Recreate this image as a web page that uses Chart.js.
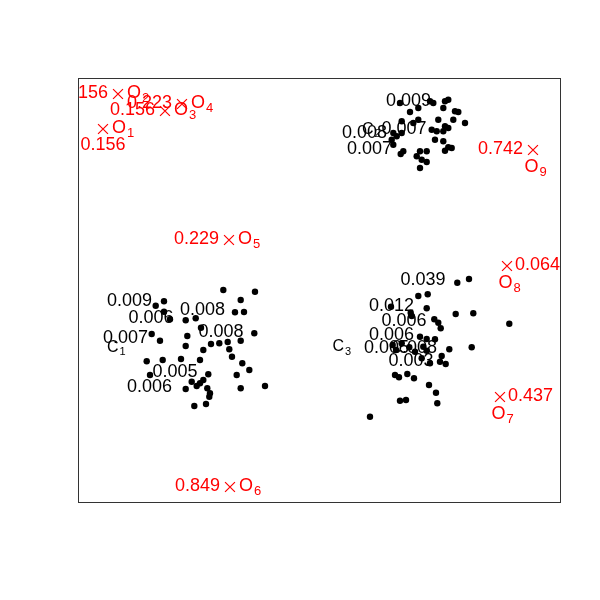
<!DOCTYPE html>
<html>
<head>
<meta charset="utf-8">
<script src="https://cdn.jsdelivr.net/npm/chart.js@4"></script>
<style>
  html, body { margin: 0; padding: 0; background: #fff; }
  #wrap { width: 600px; height: 600px; }
</style>
</head>
<body>
<div id="wrap"><canvas id="outlierChart"></canvas></div>
<script>
// --- Cluster points ---
const c1X = [14.53, 17.7, 7.77, 8.6, 16.27, 8.6, 9.2, 10.77, 11.77, 15.7, 16.6, 7.37, 8.2, 10.93, 12.3, 17.63, 16.27, 10.77, 12.53, 13.3, 14.13, 14.97, 15.13, 15.4, 6.87, 8.47, 10.3, 12.2, 16.43, 17.13, 7.2, 15.87, 13.03, 12.53, 12.2, 11.87, 11.37, 10.77, 12.93, 13.2, 13.13, 16.27, 18.7, 11.63, 12.8];
const c1Y = [21.2, 21.03, 19.63, 20.07, 20.2, 19.03, 18.27, 18.17, 18.37, 18.97, 19.0, 16.8, 16.13, 16.6, 17.43, 16.87, 16.13, 15.6, 15.2, 15.8, 15.87, 16.0, 15.27, 14.53, 14.07, 14.2, 14.3, 14.2, 13.87, 13.2, 12.7, 12.7, 12.77, 12.2, 11.87, 11.6, 12.03, 11.3, 11.37, 10.87, 10.53, 11.37, 11.6, 9.6, 9.8];

const c2X = [32.2, 33.2, 35.2, 35.53, 36.7, 37.03, 36.53, 37.7, 38.03, 34.03, 37.53, 38.7, 36.03, 34.03, 32.37, 33.53, 35.37, 35.87, 36.7, 37.03, 36.53, 31.53, 31.87, 32.37, 31.37, 31.53, 35.7, 36.53, 37.03, 37.37, 36.7, 32.53, 32.27, 34.2, 34.87, 33.87, 34.37, 34.87, 34.2];
const c2Y = [39.9, 39.0, 40.07, 39.9, 40.07, 40.23, 39.4, 39.07, 39.0, 39.4, 38.23, 37.9, 38.23, 38.23, 38.07, 37.9, 37.23, 37.07, 37.57, 37.4, 37.07, 36.9, 36.57, 36.9, 36.23, 35.73, 36.23, 36.07, 35.47, 35.4, 35.13, 35.07, 34.8, 35.07, 35.07, 34.57, 34.23, 34.0, 33.4];

const c3X = [37.93, 39.1, 34.03, 34.97, 31.3, 34.87, 33.27, 33.37, 37.77, 39.53, 43.13, 35.63, 36.03, 36.27, 34.2, 34.87, 35.7, 31.47, 32.37, 33.13, 34.53, 34.87, 33.7, 37.13, 39.37, 36.37, 36.2, 36.77, 35.2, 34.37, 31.7, 32.1, 32.93, 33.6, 35.1, 35.8, 35.93, 32.2, 32.8, 29.2, 31.8];
const c3Y = [21.93, 22.3, 20.6, 20.77, 19.53, 19.37, 18.93, 18.6, 18.8, 18.87, 17.83, 18.27, 17.93, 17.37, 16.53, 16.3, 16.27, 15.7, 15.87, 15.47, 15.53, 15.13, 15.03, 15.27, 15.47, 14.6, 14.03, 13.8, 13.87, 14.37, 12.7, 12.47, 12.8, 12.37, 11.7, 10.93, 9.87, 10.13, 10.2, 8.53, 15.2];

// --- Outliers ---
const outlierNames = ['O1', 'O2', 'O3', 'O4', 'O5', 'O6', 'O7', 'O8', 'O9'];
const outlierX = [2.5, 4.0, 8.7, 10.4, 15.1, 15.2, 42.2, 42.9, 45.5];
const outlierY = [37.3, 40.8, 39.1, 39.8, 26.2, 1.5, 10.5, 23.6, 35.2];
const outlierValues = ['0.156', '0.156', '0.156', '0.223', '0.229', '0.849', '0.437', '0.064', '0.742'];
// label side, R style: 1 below, 2 left, 4 right
const valueSide = [1, 2, 2, 2, 2, 2, 4, 4, 2];
const nameSide = [4, 4, 4, 4, 4, 4, 1, 1, 1];

// --- Point value labels ---
const pointLabels = ['0.009', '0.006', '0.007', '0.008', '0.008', '0.005', '0.006',
                     '0.009', '0.008', '0.007', '0.007',
                     '0.039', '0.012', '0.006', '0.006', '0.005', '0.008', '0.003'];
const pointLabelX = [5.15, 7.3, 4.75, 12.45, 14.3, 9.7, 7.15,
                     33.05, 28.65, 32.6, 29.15,
                     34.5, 31.35, 32.6, 31.35, 30.85, 33.65, 33.3];
const pointLabelY = [20.1, 18.35, 16.4, 19.2, 17.0, 12.95, 11.5,
                     40.05, 36.9, 37.3, 35.25,
                     22.2, 19.6, 18.1, 16.7, 15.35, 15.4, 14.05];

// --- Cluster names ---
const clusterNames = ['C1', 'C2', 'C3'];
const clusterNameX = [3.5, 29.0, 26.05];
const clusterNameY = [15.6, 37.4, 15.65];

const FONT = '"Liberation Sans", Arial, Helvetica, sans-serif';
const toPts = (xs, ys) => xs.map((x, i) => ({ x: x, y: ys[i] }));

// draws "O" + subscript, y is middle of the main glyph
function drawSub(ctx, text, x, y, size, subSize, align) {
    const main = text.charAt(0), sub = text.slice(1);
    ctx.font = size + 'px ' + FONT;
    const wMain = ctx.measureText(main).width;
    ctx.font = subSize + 'px ' + FONT;
    const wSub = ctx.measureText(sub).width;
    const left = align === 'center' ? x - (wMain + wSub) / 2 : x;
    const base = y + size * 0.36;
    ctx.textAlign = 'left';
    ctx.textBaseline = 'alphabetic';
    ctx.font = size + 'px ' + FONT;
    ctx.fillText(main, left, base);
    ctx.font = subSize + 'px ' + FONT;
    ctx.fillText(sub, left + wMain + 1, base + size * 0.22);
}

const labelPlugin = {
    id: 'labels',
    afterDatasetsDraw(chart) {
        const { ctx, chartArea: a, scales } = chart;
        const px = v => scales.x.getPixelForValue(v);
        const py = v => scales.y.getPixelForValue(v);
        ctx.save();
        ctx.beginPath();
        ctx.rect(a.left, a.top, a.right - a.left, a.bottom - a.top);
        ctx.clip();

        // black value labels
        ctx.fillStyle = '#000';
        ctx.font = '18px ' + FONT;
        ctx.textAlign = 'center';
        ctx.textBaseline = 'middle';
        pointLabels.forEach((t, i) => ctx.fillText(t, px(pointLabelX[i]), py(pointLabelY[i])));

        clusterNames.forEach((t, i) => {
            drawSub(ctx, t, px(clusterNameX[i]) - 6, py(clusterNameY[i]), 16, 11, 'left');
        });

        // red outlier labels
        ctx.fillStyle = '#ff0000';
        outlierNames.forEach((name, i) => {
            const x = px(outlierX[i]), y = py(outlierY[i]);
            ctx.font = '18px ' + FONT;
            ctx.textBaseline = 'middle';
            if (valueSide[i] === 2) {
                ctx.textAlign = 'right';
                ctx.fillText(outlierValues[i], x - 10, y - 1);
            } else if (valueSide[i] === 4) {
                ctx.textAlign = 'left';
                ctx.fillText(outlierValues[i], x + 8, y - 1);
            } else {
                ctx.textAlign = 'center';
                ctx.fillText(outlierValues[i], x, y + 16);
            }
            if (nameSide[i] === 4) drawSub(ctx, name, x + 9, y - 2, 18, 13, 'left');
            else drawSub(ctx, name, x + 2, y + 16, 18, 13, 'center');
        });
        ctx.restore();
    },
    afterDraw(chart) {
        const { ctx, chartArea: a } = chart;
        ctx.save();
        ctx.strokeStyle = '#333';
        ctx.lineWidth = 1;
        ctx.strokeRect(a.left + 0.5, a.top + 0.5, a.right - a.left, a.bottom - a.top);
        ctx.restore();
    }
};

const dotStyle = { pointRadius: 3.2, pointBackgroundColor: '#000', pointBorderWidth: 0, showLine: false };

new Chart(document.getElementById('outlierChart'), {
    type: 'scatter',
    data: {
        datasets: [
            { data: toPts(c1X, c1Y), ...dotStyle },
            { data: toPts(c2X, c2Y), ...dotStyle },
            { data: toPts(c3X, c3Y), ...dotStyle },
            {
                data: toPts(outlierX, outlierY),
                pointStyle: 'crossRot',
                pointRadius: 7,
                pointBorderColor: '#ff0000',
                pointBorderWidth: 1.2,
                showLine: false
            }
        ]
    },
    options: {
        responsive: true,
        maintainAspectRatio: false,
        animation: false,
        layout: { padding: { left: 78, top: 78, right: 40, bottom: 98 } },
        plugins: { legend: { display: false }, tooltip: { enabled: false } },
        scales: {
            x: { type: 'linear', min: 0, max: 48.2, display: false },
            y: { type: 'linear', min: 0, max: 42.4, display: false }
        }
    },
    plugins: [labelPlugin]
});
</script>
</body>
</html>
